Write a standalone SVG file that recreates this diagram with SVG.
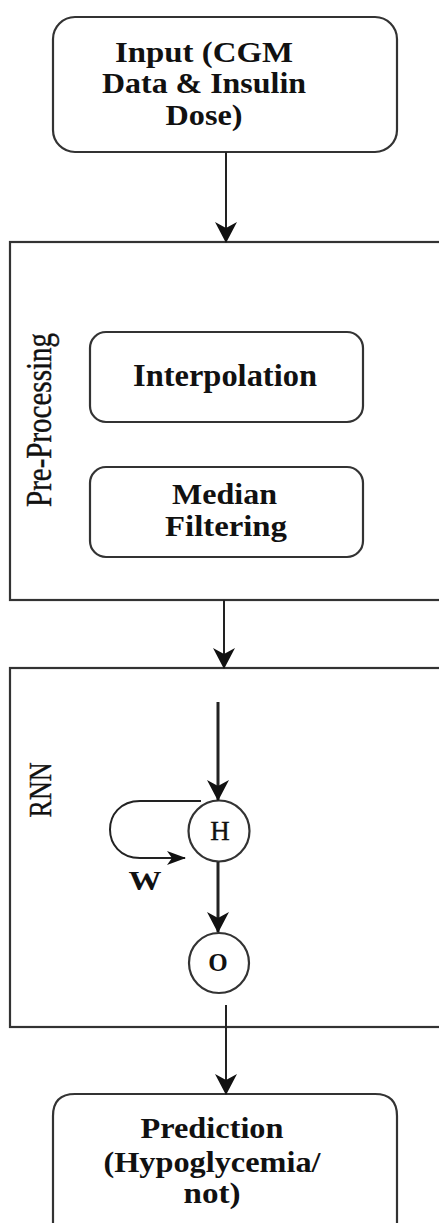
<svg xmlns="http://www.w3.org/2000/svg" width="439" height="1223" viewBox="0 0 439 1223">
<style>
.box{fill:#fff;stroke:#333;stroke-width:2.2}
.ln{fill:none;stroke:#222;stroke-width:2}
.thick{fill:none;stroke:#222;stroke-width:3}
.t{font-family:"Liberation Serif","Times New Roman",serif;font-weight:bold;fill:#111;text-anchor:middle}
.r{font-family:"Liberation Serif","Times New Roman",serif;fill:#111;stroke:#111;stroke-width:0.35;text-anchor:middle}
</style>
<defs>
<marker id="ah" markerUnits="userSpaceOnUse" markerWidth="22" markerHeight="24" refX="20" refY="12" orient="auto" viewBox="0 0 22 24">
<path d="M0,1 L21,12 L0,23 L6,12 z" fill="#111"/>
</marker>
<marker id="ahs" markerUnits="userSpaceOnUse" markerWidth="20" markerHeight="16" refX="18" refY="8" orient="auto" viewBox="0 0 20 16">
<path d="M0,1 L19,8 L0,15 L5,8 z" fill="#111"/>
</marker>
</defs>
<rect width="439" height="1223" fill="#fff"/>

<g id="input">
<rect class="box" x="53" y="17" width="344" height="135" rx="22"/>
<text class="t" font-size="29" x="204" y="62" textLength="178" lengthAdjust="spacingAndGlyphs">Input (CGM</text>
<text class="t" font-size="29" x="204" y="93" textLength="204" lengthAdjust="spacingAndGlyphs">Data &amp; Insulin</text>
<text class="t" font-size="29" x="204" y="125" textLength="77" lengthAdjust="spacingAndGlyphs">Dose)</text>
</g>

<g id="preprocessing">
<rect class="box" x="10" y="242" width="440" height="358"/>
<text class="r" font-size="30" transform="translate(51,420) scale(1.2,1) rotate(-90)" textLength="174" lengthAdjust="spacingAndGlyphs">Pre-Processing</text>
</g>

<g id="interpolation">
<rect class="box" x="90" y="332" width="273" height="90" rx="16"/>
<text class="t" font-size="32" x="225" y="386" textLength="184" lengthAdjust="spacingAndGlyphs">Interpolation</text>
</g>

<g id="median">
<rect class="box" x="90" y="467" width="273" height="90" rx="16"/>
<text class="t" font-size="29" x="224.5" y="504" textLength="105" lengthAdjust="spacingAndGlyphs">Median</text>
<text class="t" font-size="29" x="226" y="536" textLength="122" lengthAdjust="spacingAndGlyphs">Filtering</text>
</g>

<g id="rnn">
<rect class="box" x="10" y="668" width="440" height="359"/>
<text class="r" font-size="27" transform="translate(51,790) scale(1.2,1) rotate(-90)" textLength="55" lengthAdjust="spacingAndGlyphs">RNN</text>
</g>

<g id="hidden">
<circle class="box" cx="219" cy="831" r="30.5" stroke-width="1.8"/>
<text class="r" font-size="27" x="220" y="840" fill="#2a3550" stroke="#2a3550" stroke-width="0.5">H</text>
</g>

<g id="output">
<circle class="box" cx="219" cy="963" r="30" stroke-width="1.8"/>
<text class="t" font-size="25" x="218" y="971">O</text>
</g>

<g id="wlabel">
<text class="t" font-size="28" x="145" y="890" textLength="33" lengthAdjust="spacingAndGlyphs">W</text>
</g>

<g id="prediction">
<path class="box" d="M53,1240 V1116 Q53,1094 75,1094 H375 Q397,1094 397,1116 V1240"/>
<text class="t" font-size="29" x="212" y="1138" textLength="143" lengthAdjust="spacingAndGlyphs">Prediction</text>
<text class="t" font-size="29" x="212" y="1172" textLength="217" lengthAdjust="spacingAndGlyphs">(Hypoglycemia/</text>
<text class="t" font-size="29" x="212" y="1203" textLength="57" lengthAdjust="spacingAndGlyphs">not)</text>
</g>

<g id="connectors">
<line class="ln" x1="226" y1="152" x2="226" y2="242" marker-end="url(#ah)"/>
<line class="ln" x1="224" y1="600" x2="224" y2="668" marker-end="url(#ah)"/>
<line class="thick" x1="218" y1="702" x2="218" y2="800" marker-end="url(#ah)"/>
<line class="thick" x1="218" y1="862" x2="218" y2="932" marker-end="url(#ah)"/>
<path class="ln" stroke-width="1.8" d="M201,801 H140 C100,801 100,858 140,858 H185" marker-end="url(#ahs)"/>
<line class="ln" x1="226" y1="1005" x2="226" y2="1094" marker-end="url(#ah)"/>
</g>
</svg>
